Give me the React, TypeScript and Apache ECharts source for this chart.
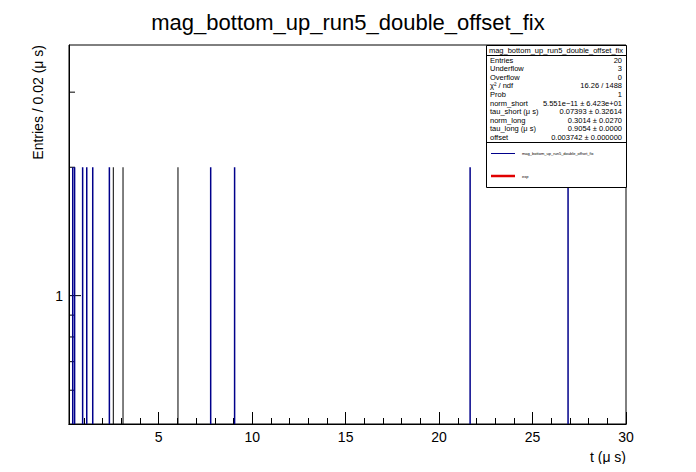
import * as echarts from "echarts";
import { useEffect, useRef } from "react";

// t positions (μs) of filled bins and their entries
const blueBins = [0.4, 0.5, 0.93, 1.15, 1.47, 2.36, 7.78, 9.06, 21.66, 26.9];
const blackBins = [2.57, 3.09, 6.03];
const binCount = 2;

const statNames = ["Entries", "Underflow", "Overflow", "χ² / ndf", "Prob", "norm_short", "tau_short (μ s)", "norm_long", "tau_long (μ s)", "offset"];
const statValues = ["20", "3", "0", "16.26 / 1488", "1", "5.551e−11 ± 6.423e+01", "0.07393 ± 0.32614", "0.3014 ± 0.0270", "0.9054 ± 0.0000", "0.003742 ± 0.000000"];

const xMajor = [5, 10, 15, 20, 25, 30];
const xMinor = Array.from({ length: 30 }, (_, i) => i + 1);
const yMinorTicks = [0.6, 0.7, 0.8, 0.9, 2, 3];
const yMajorTicks = [1];

const font = "Liberation Sans, Arial, sans-serif";

function spikes(color: string, width: number) {
  return {
    type: "custom" as const,
    renderItem: (_: unknown, api: any) => {
      const top = api.coord([api.value(0), api.value(1)]);
      const bottom = api.coord([api.value(0), 0.5]);
      return {
        type: "line",
        shape: { x1: top[0], y1: top[1], x2: bottom[0], y2: bottom[1] },
        style: { stroke: color, lineWidth: width },
      };
    },
  };
}

// y-axis ticks drawn inward from the left frame
function yTickSeries(len: number) {
  return {
    type: "custom" as const,
    renderItem: (_: unknown, api: any) => {
      const p = api.coord([0.2, api.value(1)]);
      return {
        type: "line",
        shape: { x1: p[0], y1: p[1], x2: p[0] + len, y2: p[1] },
        style: { stroke: "#000", lineWidth: 1 },
      };
    },
  };
}

export default function App() {
  const ref = useRef<HTMLDivElement | null>(null);

  useEffect(() => {
    const el = ref.current;
    if (!el) return;
    const chart = echarts.init(el, undefined, { renderer: "svg" });

    const statTexts: any[] = [];
    statNames.forEach((n, i) => {
      const y = 60 + i * 8.6;
      statTexts.push({ type: "text", x: 490, y, style: { text: n, font: `7.5px ${font}`, fill: "#000", verticalAlign: "middle" } });
      statTexts.push({ type: "text", x: 622, y, style: { text: statValues[i], font: `7.5px ${font}`, fill: "#000", align: "right", verticalAlign: "middle" } });
    });

    const axisBase = {
      type: "value" as const,
      min: 0.2,
      max: 30,
      splitLine: { show: false },
      axisLine: { lineStyle: { color: "#000" } },
    };

    chart.setOption({
      animation: false,
      title: {
        text: "mag_bottom_up_run5_double_offset_fix",
        left: "center",
        top: 6,
        textStyle: { fontFamily: font, fontSize: 22, fontWeight: "normal", color: "#000" },
      },
      grid: { left: 69, right: 70, top: 45, bottom: 48, show: true, borderColor: "#000", borderWidth: 1 },
      xAxis: [
        {
          ...axisBase,
          name: "t (μ s)",
          nameLocation: "end",
          nameGap: 0,
          nameTextStyle: { fontFamily: font, fontSize: 14, color: "#000", align: "right", verticalAlign: "top", padding: [26, 0, 0, 0] },
          axisTick: { inside: true, length: 12, customValues: xMajor, lineStyle: { color: "#000" } },
          axisLabel: { customValues: xMajor, fontFamily: font, fontSize: 14, color: "#000", margin: 6 },
        },
        {
          ...axisBase,
          position: "bottom",
          axisTick: { inside: true, length: 6, customValues: xMinor, lineStyle: { color: "#000" } },
          axisLabel: { show: false },
        },
      ],
      yAxis: {
        type: "log",
        min: 0.5,
        max: 3.87,
        logBase: 10,
        splitLine: { show: false },
        axisLine: { show: true, lineStyle: { color: "#000" } },
        axisTick: { show: false },
        axisLabel: { customValues: yMajorTicks, fontFamily: font, fontSize: 14, color: "#000", margin: 6 },
      },
      series: [
        { ...yTickSeries(6), data: yMinorTicks.map((v) => [0.2, v]) },
        { ...yTickSeries(12), data: yMajorTicks.map((v) => [0.2, v]) },
        { ...spikes("#000000", 1), data: blackBins.map((x) => [x, binCount]) },
        { ...spikes("#00008b", 1.5), data: blueBins.map((x) => [x, binCount]) },
      ],
      graphic: [
        {
          type: "text", x: 38, y: 45, rotation: Math.PI / 2,
          style: { text: "Entries / 0.02 (μ s)", font: `14px ${font}`, fill: "#000", align: "right", verticalAlign: "middle" },
        },
        { type: "rect", shape: { x: 486.5, y: 45.5, width: 140, height: 142 }, style: { fill: "#fff", stroke: "#000", lineWidth: 1 }, z: 10 },
        { type: "line", shape: { x1: 486.5, y1: 55.5, x2: 626.5, y2: 55.5 }, style: { stroke: "#000" }, z: 11 },
        { type: "line", shape: { x1: 486.5, y1: 142.5, x2: 626.5, y2: 142.5 }, style: { stroke: "#000" }, z: 11 },
        { type: "text", x: 556, y: 50.5, z: 11, style: { text: "mag_bottom_up_run5_double_offset_fix", font: `7.5px ${font}`, fill: "#000", align: "center", verticalAlign: "middle" } },
        ...statTexts.map((t) => ({ ...t, z: 11 })),
        { type: "line", shape: { x1: 491, y1: 153.5, x2: 515, y2: 153.5 }, style: { stroke: "#00008b", lineWidth: 1 }, z: 11 },
        { type: "text", x: 522, y: 153.5, z: 11, style: { text: "mag_bottom_up_run5_double_offset_fix", font: `4px ${font}`, fill: "#000", verticalAlign: "middle" } },
        { type: "line", shape: { x1: 491, y1: 176, x2: 515, y2: 176 }, style: { stroke: "#e00000", lineWidth: 2.5 }, z: 11 },
        { type: "text", x: 522, y: 176, z: 11, style: { text: "exp", font: `4px ${font}`, fill: "#000", verticalAlign: "middle" } },
      ],
    });

    return () => chart.dispose();
  }, []);

  return <div ref={ref} style={{ width: 696, height: 472, margin: -8, background: "#fff" }} />;
}
